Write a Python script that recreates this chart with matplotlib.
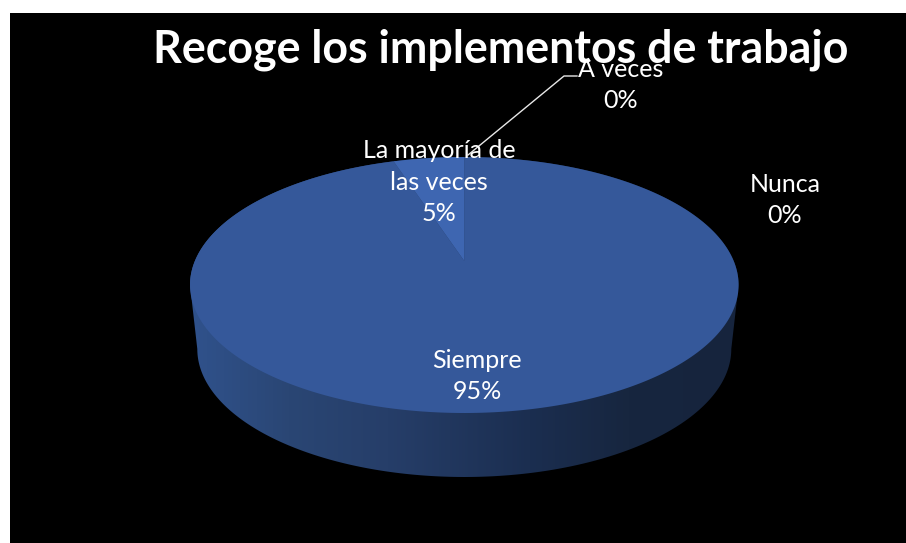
import numpy as np
import matplotlib
matplotlib.use("Agg")
import matplotlib.pyplot as plt
from matplotlib.colors import LinearSegmentedColormap
from matplotlib.patches import Polygon, Rectangle
from matplotlib.path import Path
from matplotlib.transforms import Transform

title = "Recoge los implementos de trabajo"
categories = ["Siempre", "La mayoría de\nlas veces", "A veces", "Nunca"]
values = [95, 5, 0, 0]

W, H = 906, 543
CX, CY, RX, RY, PIVOT = 464.3, 285.0, 274.3, 128.0, 24.0
DEPTH, BASE_RX = 64.0, 267.0
LABEL_POS = [(477, 376), (439, 182), (621, 85), (785, 200)]
TOP_COLORS = ["#35589A", "#3E66B1", "#35589A", "#35589A"]


class Perspective(Transform):
    """Tilted-disc projection of the unit pie onto figure pixels."""
    input_dims = output_dims = 2
    is_affine = False
    has_inverse = False

    def transform_non_affine(self, xy):
        xy = np.asarray(xy, float)
        k = PIVOT / RY
        c = RX * np.sqrt(1 - k ** 2)
        d = 1 + k * xy[:, 1]
        return np.column_stack([CX + c * xy[:, 0] / d,
                                CY - (RY * xy[:, 1] + PIVOT) / d])

    def transform_path_non_affine(self, path):
        pts = [b(np.linspace(0, 1, 30)) for b, _ in path.iter_bezier()]
        return Path(self.transform_non_affine(np.vstack(pts)))


plt.rcParams["font.family"] = ["Lato", "DejaVu Sans"]
fig = plt.figure(figsize=(W / 100, H / 100), dpi=100, facecolor="white")
ax = fig.add_axes([0, 0, 1, 1])

wedges, _ = ax.pie(values, startangle=90, counterclock=False, colors=TOP_COLORS,
                   wedgeprops=dict(linewidth=0))
ax.set_aspect("auto")
ax.set_xlim(0, W)
ax.set_ylim(H, 0)
ax.axis("off")
ax.add_patch(Rectangle((10, 13), W - 10, H - 13, fc="black", ec="none", zorder=0))

# Rim of the disc, with the light falling off to the right
proj = Perspective()
upper = np.linspace(0, np.pi, 200)
lower = np.linspace(np.pi, 2 * np.pi, 200)
top_edge = np.column_stack([CX + RX * np.cos(upper), CY - RY * np.sin(upper)])
base_edge = np.column_stack([CX + BASE_RX * np.cos(lower),
                             CY + DEPTH - RY * np.sin(lower)])
rim = Polygon(np.vstack([top_edge, base_edge]), closed=True, fc="none", ec="none")
ax.add_patch(rim)
cmap = LinearSegmentedColormap.from_list(
    "rim", [(0, "#30528C"), (0.18, "#2A4674"), (0.36, "#263E69"),
            (0.62, "#1B2E50"), (0.8, "#17263F"), (1, "#16243D")])
img = ax.imshow(np.linspace(0, 1, 256)[None, :], cmap=cmap, aspect="auto",
                extent=(CX - RX, CX + RX, CY + DEPTH + RY, CY - RY), zorder=1)
img.set_clip_path(rim)
ax.set_xlim(0, W)
ax.set_ylim(H, 0)

trans = proj + ax.transData
for w in wedges:
    w.set_transform(trans)
    w.set_clip_on(False)
    w.set_zorder(2)

ax.plot([468, 564, 577], [155, 76, 76], color="#E8E8E8", lw=1.0, zorder=3)

ax.text(501, 50, title, color="white", fontsize=32.2, fontweight="bold",
        ha="center", va="center", zorder=4)
for name, val, (x, y) in zip(categories, values, LABEL_POS):
    ax.text(x, y, f"{name}\n{val}%", color="white", fontsize=18, ha="center",
            va="center", linespacing=1.44, zorder=5)

fig.savefig("out.png", dpi=100, facecolor="white")
